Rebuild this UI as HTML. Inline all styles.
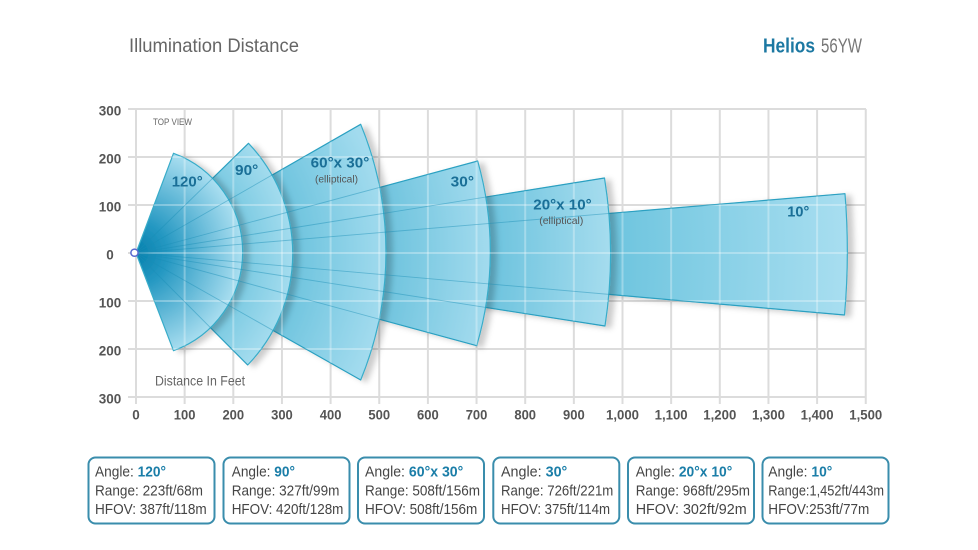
<!DOCTYPE html>
<html><head><meta charset="utf-8"><style>
html,body{margin:0;padding:0;background:#fff;}
svg{display:block;}
text{font-family:"Liberation Sans",Arial,sans-serif;}
</style></head><body>
<svg width="978" height="550" viewBox="0 0 978 550" xmlns="http://www.w3.org/2000/svg">
<defs>
  <filter id="sh" x="-10%" y="-10%" width="130%" height="130%">
    <feDropShadow dx="6" dy="2" stdDeviation="2.8" flood-color="#000" flood-opacity="0.2"/>
  </filter>
  <radialGradient id="g10" gradientUnits="userSpaceOnUse" cx="136" cy="253" r="711">
    <stop offset="0.66" stop-color="#6cc4de"/><stop offset="1" stop-color="#a8def0"/></radialGradient>
  <radialGradient id="g20" gradientUnits="userSpaceOnUse" cx="136" cy="253" r="474">
    <stop offset="0.72" stop-color="#66c0dc"/><stop offset="1" stop-color="#a5dcee"/></radialGradient>
  <radialGradient id="g30" gradientUnits="userSpaceOnUse" cx="136" cy="253" r="355">
    <stop offset="0.68" stop-color="#69c1dc"/><stop offset="1" stop-color="#a3dbee"/></radialGradient>
  <radialGradient id="g60" gradientUnits="userSpaceOnUse" cx="136" cy="253" r="252">
    <stop offset="0.6" stop-color="#6ac2dd"/><stop offset="1" stop-color="#a2dbee"/></radialGradient>
  <radialGradient id="g90" gradientUnits="userSpaceOnUse" cx="136" cy="253" r="160">
    <stop offset="0.62" stop-color="#72c6df"/><stop offset="1" stop-color="#a6ddef"/></radialGradient>
  <radialGradient id="g120" gradientUnits="userSpaceOnUse" cx="136" cy="253" r="106">
    <stop offset="0" stop-color="#0580ad"/><stop offset="0.3" stop-color="#2598c2"/><stop offset="1" stop-color="#a9def0"/></radialGradient>
  <clipPath id="wclip">
    <path d="M136,253 L845,193.7 A711,711 0 0 1 844.5,315 Z"/>
    <path d="M136,253 L604.5,178 A474,474 0 0 1 605,326 Z"/>
    <path d="M136,253 L477.7,161 A332,332 0 0 1 476.7,345.7 Z"/>
    <path d="M136,253 L360.7,124.3 A336,336 0 0 1 360.7,380 Z"/>
    <path d="M136,253 L248.5,143.3 A160,160 0 0 1 247.7,365 Z"/>
    <path d="M136,253 L173.5,153.3 A105,105 0 0 1 173.5,350.7 Z"/>
  </clipPath>
  <g id="grid">
    <path d="M128,109H866M128,157H866M128,205H866M128,253H866M128,301H866M128,349H866M128,397H866"/>
    <path d="M136,109V404M184.65,109V404M233.3,109V404M281.95,109V404M330.6,109V404M379.25,109V404M427.9,109V404M476.55,109V404M525.2,109V404M573.85,109V404M622.5,109V404M671.15,109V404M719.8,109V404M768.45,109V404M817.1,109V404M865.75,109V404"/>
  </g>
</defs>

<!-- titles -->
<text x="129" y="52" font-size="19.5" fill="#666" textLength="170" lengthAdjust="spacingAndGlyphs">Illumination Distance</text>
<text x="763" y="52.5" font-size="20" font-weight="bold" fill="#1c78a2" textLength="52" lengthAdjust="spacingAndGlyphs">Helios</text>
<text x="821" y="52.5" font-size="20" fill="#777" textLength="41" lengthAdjust="spacingAndGlyphs">56YW</text>

<!-- grid under -->
<use href="#grid" stroke="#dcdcdc" stroke-width="2" fill="none"/>

<!-- wedges back to front -->
<g stroke="#38acc9" stroke-width="1.2" stroke-linejoin="round">
  <path filter="url(#sh)" fill="url(#g10)" d="M136,253 L845,193.7 A711,711 0 0 1 844.5,315 Z"/>
  <path filter="url(#sh)" fill="url(#g20)" d="M136,253 L604.5,178 A474,474 0 0 1 605,326 Z"/>
  <path filter="url(#sh)" fill="url(#g30)" d="M136,253 L477.7,161 A332,332 0 0 1 476.7,345.7 Z"/>
  <path filter="url(#sh)" fill="url(#g60)" d="M136,253 L360.7,124.3 A336,336 0 0 1 360.7,380 Z"/>
  <path filter="url(#sh)" fill="url(#g90)" d="M136,253 L248.5,143.3 A160,160 0 0 1 247.7,365 Z"/>
  <path filter="url(#sh)" fill="url(#g120)" d="M136,253 L173.5,153.3 A105,105 0 0 1 173.5,350.7 Z"/>
</g>

<!-- light grid over wedges -->
<g clip-path="url(#wclip)">
  <use href="#grid" stroke="#ffffff" stroke-opacity="0.3" stroke-width="2" fill="none"/>
</g>

<!-- faint see-through edges -->
<g stroke="#1a8db6" stroke-opacity="0.45" stroke-width="0.9" fill="none">
  <path d="M136,253L845,193.7M136,253L844.5,315M136,253L604.5,178M136,253L605,326M136,253L477.7,161M136,253L476.7,345.7M136,253L360.7,124.3M136,253L360.7,380M136,253L248.5,143.3M136,253L247.7,365"/>
</g>

<!-- origin marker -->
<circle cx="134.5" cy="252.7" r="3.6" fill="#fff" stroke="#5a6ad0" stroke-width="1.5"/>

<!-- y tick labels -->
<g font-size="14" font-weight="bold" fill="#555" text-anchor="middle">
  <text x="110" y="115.7" textLength="22.5" lengthAdjust="spacingAndGlyphs">300</text>
  <text x="110" y="163.7" textLength="22.5" lengthAdjust="spacingAndGlyphs">200</text>
  <text x="110" y="211.7" textLength="22.5" lengthAdjust="spacingAndGlyphs">100</text>
  <text x="110" y="259.7" textLength="7.5" lengthAdjust="spacingAndGlyphs">0</text>
  <text x="110" y="307.7" textLength="22.5" lengthAdjust="spacingAndGlyphs">100</text>
  <text x="110" y="355.7" textLength="22.5" lengthAdjust="spacingAndGlyphs">200</text>
  <text x="110" y="403.7" textLength="22.5" lengthAdjust="spacingAndGlyphs">300</text>
</g>

<!-- x tick labels -->
<g font-size="14" font-weight="bold" fill="#555" text-anchor="middle">
  <text x="136" y="419.3" textLength="7.5" lengthAdjust="spacingAndGlyphs">0</text>
  <text x="184.65" y="419.3" textLength="21.7" lengthAdjust="spacingAndGlyphs">100</text>
  <text x="233.3" y="419.3" textLength="21.7" lengthAdjust="spacingAndGlyphs">200</text>
  <text x="281.95" y="419.3" textLength="21.7" lengthAdjust="spacingAndGlyphs">300</text>
  <text x="330.6" y="419.3" textLength="21.7" lengthAdjust="spacingAndGlyphs">400</text>
  <text x="379.25" y="419.3" textLength="21.7" lengthAdjust="spacingAndGlyphs">500</text>
  <text x="427.9" y="419.3" textLength="21.7" lengthAdjust="spacingAndGlyphs">600</text>
  <text x="476.55" y="419.3" textLength="21.7" lengthAdjust="spacingAndGlyphs">700</text>
  <text x="525.2" y="419.3" textLength="21.7" lengthAdjust="spacingAndGlyphs">800</text>
  <text x="573.85" y="419.3" textLength="21.7" lengthAdjust="spacingAndGlyphs">900</text>
  <text x="622.5" y="419.3" textLength="33" lengthAdjust="spacingAndGlyphs">1,000</text>
  <text x="671.15" y="419.3" textLength="33" lengthAdjust="spacingAndGlyphs">1,100</text>
  <text x="719.8" y="419.3" textLength="33" lengthAdjust="spacingAndGlyphs">1,200</text>
  <text x="768.45" y="419.3" textLength="33" lengthAdjust="spacingAndGlyphs">1,300</text>
  <text x="817.1" y="419.3" textLength="33" lengthAdjust="spacingAndGlyphs">1,400</text>
  <text x="865.75" y="419.3" textLength="33" lengthAdjust="spacingAndGlyphs">1,500</text>
</g>

<!-- annotations -->
<text x="153" y="125" font-size="9.5" fill="#666" textLength="39" lengthAdjust="spacingAndGlyphs">TOP VIEW</text>
<text x="155" y="385.5" font-size="14" fill="#666" textLength="90" lengthAdjust="spacingAndGlyphs">Distance In Feet</text>

<!-- wedge labels -->
<g font-size="15" font-weight="bold" fill="#1a6f97">
  <text x="171.7" y="186.7" textLength="31" lengthAdjust="spacingAndGlyphs">120°</text>
  <text x="235" y="175" textLength="23.3" lengthAdjust="spacingAndGlyphs">90°</text>
  <text x="310.7" y="167.3" textLength="58.6" lengthAdjust="spacingAndGlyphs">60°x 30°</text>
  <text x="450.7" y="186.7" textLength="23.3" lengthAdjust="spacingAndGlyphs">30°</text>
  <text x="533.3" y="209.3" textLength="58.4" lengthAdjust="spacingAndGlyphs">20°x 10°</text>
  <text x="787.3" y="216.7" textLength="22" lengthAdjust="spacingAndGlyphs">10°</text>
</g>
<g font-size="10" fill="#555">
  <text x="315" y="182.3" textLength="43" lengthAdjust="spacingAndGlyphs">(elliptical)</text>
  <text x="539.3" y="224" textLength="44" lengthAdjust="spacingAndGlyphs">(elliptical)</text>
</g>

<!-- info boxes -->
<g fill="none" stroke="#3a8dac" stroke-width="2">
  <rect x="88.5" y="457.5" width="126" height="66" rx="7"/>
  <rect x="223.5" y="457.5" width="126" height="66" rx="7"/>
  <rect x="358" y="457.5" width="126" height="66" rx="7"/>
  <rect x="493.3" y="457.5" width="126" height="66" rx="7"/>
  <rect x="628" y="457.5" width="126" height="66" rx="7"/>
  <rect x="762.5" y="457.5" width="126" height="66" rx="7"/>
</g>
<g font-size="15" fill="#454545">
  <text x="95" y="476.5" textLength="71" lengthAdjust="spacingAndGlyphs">Angle: <tspan font-weight="bold" fill="#1b7ea8">120°</tspan></text>
  <text x="95" y="495.5" textLength="108" lengthAdjust="spacingAndGlyphs">Range: 223ft/68m</text>
  <text x="95" y="514" textLength="111.7" lengthAdjust="spacingAndGlyphs">HFOV: 387ft/118m</text>

  <text x="231.7" y="476.5" textLength="63.3" lengthAdjust="spacingAndGlyphs">Angle: <tspan font-weight="bold" fill="#1b7ea8">90°</tspan></text>
  <text x="231.7" y="495.5" textLength="107.7" lengthAdjust="spacingAndGlyphs">Range: 327ft/99m</text>
  <text x="231.7" y="514" textLength="111.7" lengthAdjust="spacingAndGlyphs">HFOV: 420ft/128m</text>

  <text x="365" y="476.5" textLength="98.3" lengthAdjust="spacingAndGlyphs">Angle: <tspan font-weight="bold" fill="#1b7ea8">60°x 30°</tspan></text>
  <text x="365" y="495.5" textLength="115" lengthAdjust="spacingAndGlyphs">Range: 508ft/156m</text>
  <text x="365" y="514" textLength="112.3" lengthAdjust="spacingAndGlyphs">HFOV: 508ft/156m</text>

  <text x="501" y="476.5" textLength="66.3" lengthAdjust="spacingAndGlyphs">Angle: <tspan font-weight="bold" fill="#1b7ea8">30°</tspan></text>
  <text x="501" y="495.5" textLength="112.3" lengthAdjust="spacingAndGlyphs">Range: 726ft/221m</text>
  <text x="501" y="514" textLength="109" lengthAdjust="spacingAndGlyphs">HFOV: 375ft/114m</text>

  <text x="635.7" y="476.5" textLength="96.6" lengthAdjust="spacingAndGlyphs">Angle: <tspan font-weight="bold" fill="#1b7ea8">20°x 10°</tspan></text>
  <text x="635.7" y="495.5" textLength="114.3" lengthAdjust="spacingAndGlyphs">Range: 968ft/295m</text>
  <text x="635.7" y="514" textLength="111" lengthAdjust="spacingAndGlyphs">HFOV: 302ft/92m</text>

  <text x="768.3" y="476.5" textLength="64" lengthAdjust="spacingAndGlyphs">Angle: <tspan font-weight="bold" fill="#1b7ea8">10°</tspan></text>
  <text x="768.3" y="495.5" textLength="115.7" lengthAdjust="spacingAndGlyphs">Range:1,452ft/443m</text>
  <text x="768.3" y="514" textLength="101" lengthAdjust="spacingAndGlyphs">HFOV:253ft/77m</text>
</g>
</svg>
</body></html>
